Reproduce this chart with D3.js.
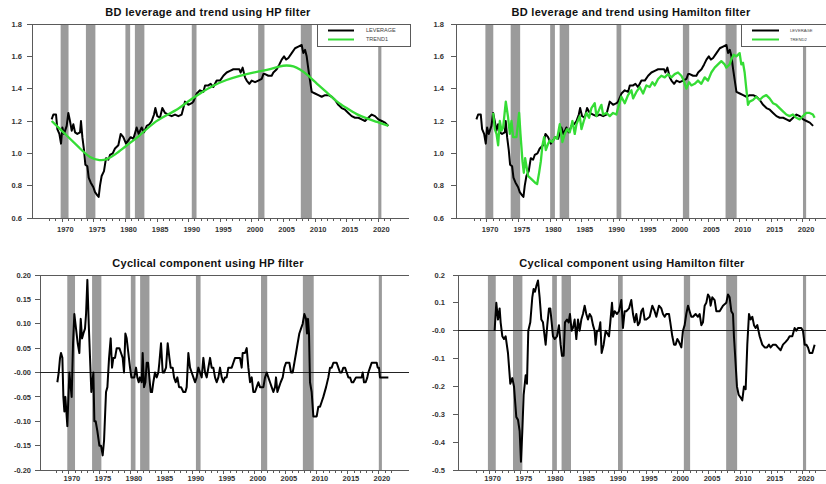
<!DOCTYPE html>
<html><head><meta charset="utf-8">
<script src="https://cdn.jsdelivr.net/npm/d3@7"></script>
<style>
body{margin:0;background:#fff}
svg{display:block}
text{font-family:"Liberation Sans",Arial,Helvetica,sans-serif}
</style>
</head><body>
<svg id="chart" width="826" height="484"></svg>
<script>
// ---------------- DATA ----------------
const titles = [
  "BD leverage and trend using HP filter",
  "BD leverage and trend using Hamilton filter",
  "Cyclical component using HP filter",
  "Cyclical component using Hamilton filter"
];
const legendNames1 = ["LEVERAGE", "TREND1"];
const legendNames2 = ["LEVERAGE", "TREND2"];

const yearLabels = [1970, 1975, 1980, 1985, 1990, 1995, 2000, 2005, 2010, 2015, 2020];

const levelTicks = [1.8, 1.6, 1.4, 1.2, 1.0, 0.8, 0.6];
const levelTickLabels = ["1.8", "1.6", "1.4", "1.2", "1.0", "0.8", "0.6"];
const hpCycleTicks = [0.20, 0.15, 0.10, 0.05, 0.00, -0.05, -0.10, -0.15, -0.20];
const hpCycleTickLabels = ["0.20", "0.15", "0.10", "0.05", "-0.00", "-0.05", "-0.10", "-0.15", "-0.20"];
const hamCycleTicks = [0.2, 0.1, 0.0, -0.1, -0.2, -0.3, -0.4, -0.5];
const hamCycleTickLabels = ["0.2", "0.1", "-0.0", "-0.1", "-0.2", "-0.3", "-0.4", "-0.5"];

// NBER recessions (quarterly, start/end as decimal years)
const recessions = [
  [1969.75, 1971.0], [1973.75, 1975.25], [1980.0, 1980.75], [1981.5, 1983.0],
  [1990.5, 1991.25], [2001.0, 2002.0], [2007.75, 2009.5], [2020.0, 2020.5]
];

const leverage = [
  [1968.33,1.21],[1968.60,1.24],[1969.02,1.24],[1969.23,1.15],[1969.55,1.12],[1969.81,1.06],[1970.02,1.16],[1970.28,1.12],
  [1970.71,1.17],[1970.97,1.25],[1971.23,1.20],[1971.50,1.14],[1971.76,1.18],[1972.03,1.13],[1972.39,1.12],[1972.82,1.13],
  [1972.97,1.20],[1973.19,1.10],[1973.45,1.02],[1973.66,0.93],[1973.98,0.92],[1974.19,0.85],[1974.50,0.82],[1974.93,0.79],
  [1975.19,0.76],[1975.56,0.74],[1975.77,0.73],[1975.98,0.80],[1976.24,0.86],[1976.61,0.89],[1976.93,0.97],[1977.30,0.96],
  [1977.56,0.99],[1977.99,1.00],[1978.35,1.03],[1978.88,1.05],[1979.25,1.12],[1979.67,1.10],[1980.09,1.06],[1980.46,1.08],
  [1980.83,1.10],[1981.26,1.09],[1981.78,1.16],[1982.10,1.12],[1982.57,1.16],[1982.94,1.13],[1983.37,1.17],[1983.79,1.18],
  [1984.16,1.20],[1984.53,1.24],[1984.74,1.28],[1985.05,1.23],[1985.47,1.22],[1985.84,1.28],[1986.27,1.25],[1986.79,1.24],
  [1987.32,1.23],[1987.85,1.24],[1988.38,1.23],[1988.90,1.24],[1989.43,1.32],[1989.96,1.30],[1990.49,1.31],[1990.75,1.32],
  [1991.28,1.37],[1991.80,1.39],[1992.33,1.38],[1992.60,1.42],[1993.12,1.42],[1993.49,1.43],[1993.91,1.41],[1994.44,1.45],
  [1994.97,1.45],[1995.50,1.48],[1996.02,1.50],[1996.55,1.51],[1997.08,1.52],[1997.61,1.52],[1998.03,1.52],[1998.24,1.50],
  [1998.55,1.53],[1998.92,1.47],[1999.19,1.45],[1999.61,1.43],[1999.98,1.45],[2000.51,1.44],[2001.03,1.45],[2001.56,1.46],
  [2001.83,1.49],[2002.09,1.49],[2002.62,1.48],[2003.14,1.48],[2003.41,1.50],[2003.94,1.52],[2004.36,1.55],[2004.73,1.58],
  [2005.10,1.60],[2005.41,1.58],[2005.78,1.59],[2006.31,1.62],[2006.84,1.65],[2007.36,1.66],[2007.89,1.67],[2008.15,1.62],
  [2008.42,1.64],[2008.68,1.60],[2008.95,1.52],[2009.21,1.45],[2009.47,1.38],[2010.00,1.37],[2010.53,1.36],[2011.06,1.35],
  [2011.58,1.36],[2012.11,1.36],[2012.64,1.35],[2013.17,1.33],[2013.69,1.30],[2014.22,1.28],[2014.75,1.27],[2015.27,1.25],
  [2015.80,1.23],[2016.33,1.22],[2016.86,1.22],[2017.38,1.21],[2017.91,1.20],[2018.44,1.22],[2018.97,1.24],[2019.49,1.23],
  [2020.02,1.21],[2020.55,1.20],[2021.08,1.19],[2021.60,1.17]
];

const trend1 = [
  [1968.33,1.20],[1970.71,1.11],[1972.82,1.03],[1974.40,0.97],[1975.98,0.955],[1977.00,0.96],[1978.35,0.99],[1980.20,1.05],
  [1982.30,1.11],[1984.40,1.19],[1986.50,1.235],[1988.60,1.28],[1990.20,1.33],[1991.80,1.37],[1993.90,1.42],[1996.00,1.455],
  [1998.10,1.48],[2000.20,1.50],[2002.40,1.515],[2004.50,1.54],[2005.50,1.545],[2006.60,1.54],[2007.60,1.52],[2008.70,1.49],
  [2010.30,1.43],[2011.80,1.38],[2013.40,1.32],[2015.00,1.28],[2016.60,1.24],[2018.20,1.215],[2019.80,1.195],[2021.60,1.17]
];

const trend2 = [
  [1970.98,1.25],[1971.24,1.15],[1971.51,1.12],[1971.77,1.05],[1972.03,1.20],[1972.30,1.14],[1972.56,1.16],[1972.98,1.32],
  [1973.35,1.22],[1973.62,1.12],[1973.88,1.20],[1974.14,1.10],[1974.67,1.10],[1975.09,1.25],[1975.30,1.12],[1975.62,0.95],
  [1975.83,0.88],[1976.04,0.97],[1976.25,0.92],[1976.51,0.86],[1977.04,0.84],[1977.57,0.82],[1977.94,0.81],[1978.25,0.88],
  [1978.52,0.95],[1978.78,1.05],[1979.04,1.10],[1979.31,1.02],[1979.68,1.06],[1979.94,1.08],[1980.36,1.07],[1980.73,1.10],
  [1981.10,1.09],[1981.52,1.18],[1981.94,1.07],[1982.31,1.12],[1982.68,1.15],[1983.10,1.13],[1983.52,1.20],[1983.89,1.12],
  [1984.16,1.18],[1984.68,1.23],[1984.95,1.15],[1985.32,1.20],[1985.74,1.25],[1986.16,1.22],[1986.53,1.28],[1987.05,1.31],
  [1987.32,1.23],[1987.85,1.28],[1988.11,1.30],[1988.37,1.24],[1988.90,1.25],[1989.43,1.23],[1989.95,1.25],[1990.48,1.24],
  [1990.74,1.28],[1991.27,1.35],[1991.80,1.31],[1992.32,1.36],[1992.85,1.39],[1993.12,1.34],[1993.64,1.38],[1994.17,1.41],
  [1994.70,1.37],[1995.22,1.42],[1995.75,1.41],[1996.17,1.44],[1996.54,1.42],[1997.07,1.46],[1997.59,1.48],[1998.12,1.47],
  [1998.65,1.49],[1999.18,1.47],[1999.70,1.49],[2000.23,1.50],[2000.76,1.48],[2001.13,1.45],[2001.55,1.40],[2001.97,1.44],
  [2002.34,1.42],[2002.86,1.43],[2003.39,1.45],[2003.92,1.43],[2004.45,1.47],[2004.97,1.45],[2005.50,1.50],[2006.03,1.53],
  [2006.55,1.55],[2007.08,1.57],[2007.61,1.55],[2007.87,1.53],[2008.40,1.55],[2008.66,1.58],[2009.03,1.61],[2009.45,1.60],
  [2009.98,1.62],[2010.24,1.55],[2010.51,1.56],[2010.77,1.50],[2011.03,1.40],[2011.30,1.30],[2011.56,1.32],[2012.09,1.33],
  [2012.61,1.35],[2013.14,1.33],[2013.67,1.35],[2014.20,1.36],[2014.72,1.34],[2015.25,1.31],[2015.78,1.30],[2016.30,1.28],
  [2016.83,1.26],[2017.36,1.24],[2017.88,1.23],[2018.41,1.24],[2018.94,1.22],[2019.47,1.21],[2019.99,1.23],[2020.52,1.25],
  [2021.05,1.25],[2021.57,1.24],[2021.84,1.22]
];

const hpCycle = [
  [1968.15,-0.02],[1968.37,0.00],[1968.58,0.03],[1968.74,0.04],[1968.96,0.03],[1969.12,-0.05],[1969.28,-0.08],[1969.44,-0.05],
  [1969.60,-0.08],[1969.76,-0.11],[1969.93,-0.05],[1970.09,0.00],[1970.30,-0.03],[1970.46,-0.05],[1970.68,0.06],[1970.89,0.12],
  [1971.16,0.09],[1971.43,0.06],[1971.70,0.04],[1971.92,0.11],[1972.13,0.07],[1972.35,0.08],[1972.61,0.09],[1972.78,0.12],
  [1972.99,0.19],[1973.21,0.10],[1973.42,0.03],[1973.63,-0.04],[1973.80,-0.02],[1973.96,0.00],[1974.12,-0.10],[1974.33,-0.10],
  [1974.60,-0.12],[1974.93,-0.15],[1975.19,-0.15],[1975.46,-0.17],[1975.68,-0.14],[1976.00,-0.04],[1976.22,-0.03],[1976.49,0.03],
  [1976.75,0.07],[1976.97,0.01],[1977.18,0.03],[1977.45,0.03],[1977.72,0.05],[1978.15,0.05],[1978.42,0.04],[1978.69,0.03],
  [1978.90,0.00],[1979.12,0.08],[1979.33,0.07],[1979.60,0.04],[1979.87,0.01],[1980.09,-0.01],[1980.30,-0.01],[1980.57,-0.01],
  [1980.84,0.01],[1981.05,-0.01],[1981.27,-0.02],[1981.48,-0.01],[1981.75,-0.02],[1981.91,0.04],[1982.13,-0.03],[1982.35,-0.02],
  [1982.56,0.02],[1982.78,0.02],[1982.99,-0.01],[1983.20,-0.04],[1983.42,-0.04],[1983.63,-0.02],[1983.90,0.00],[1984.17,-0.01],
  [1984.44,0.00],[1984.60,0.02],[1984.87,0.06],[1985.14,0.00],[1985.36,0.00],[1985.68,0.01],[1985.95,0.06],[1986.22,0.03],
  [1986.43,0.01],[1986.75,0.01],[1986.97,-0.01],[1987.24,-0.02],[1987.51,-0.01],[1987.78,-0.03],[1988.10,-0.03],[1988.47,-0.04],
  [1988.80,-0.04],[1989.01,-0.03],[1989.28,0.04],[1989.55,0.01],[1989.82,0.00],[1990.09,-0.01],[1990.36,-0.02],[1990.62,-0.01],
  [1990.89,0.01],[1991.16,0.00],[1991.43,-0.01],[1991.70,0.03],[1991.97,0.00],[1992.24,-0.01],[1992.51,0.01],[1992.78,0.03],
  [1993.04,0.01],[1993.31,0.01],[1993.58,-0.01],[1993.85,-0.02],[1994.12,-0.01],[1994.39,0.01],[1994.66,-0.01],[1994.93,-0.02],
  [1995.19,-0.01],[1995.46,-0.01],[1995.73,0.01],[1996.00,0.01],[1996.27,0.01],[1996.54,0.02],[1996.81,0.03],[1997.08,0.03],
  [1997.35,0.03],[1997.61,0.03],[1997.88,0.01],[1998.04,0.04],[1998.42,0.04],[1998.69,0.05],[1998.96,0.01],[1999.23,-0.02],
  [1999.50,-0.01],[1999.76,-0.04],[2000.03,-0.04],[2000.30,-0.03],[2000.57,-0.02],[2000.84,-0.03],[2001.38,-0.03],[2001.65,-0.01],
  [2001.92,0.00],[2002.18,-0.01],[2002.45,-0.02],[2002.72,-0.03],[2002.99,-0.04],[2003.26,-0.03],[2003.42,-0.01],[2003.64,-0.04],
  [2003.90,-0.03],[2004.17,-0.02],[2004.50,-0.01],[2004.76,0.01],[2005.03,0.02],[2005.30,0.02],[2005.57,0.02],[2005.84,0.00],
  [2006.11,0.00],[2006.38,0.02],[2006.65,0.04],[2006.91,0.06],[2007.18,0.08],[2007.45,0.09],[2007.72,0.10],[2007.99,0.12],
  [2008.26,0.11],[2008.42,0.08],[2008.58,0.11],[2008.74,0.08],[2008.90,-0.02],[2009.17,-0.04],[2009.44,-0.09],[2009.71,-0.09],
  [2009.98,-0.09],[2010.25,-0.07],[2010.52,-0.07],[2010.79,-0.06],[2011.05,-0.05],[2011.49,-0.03],[2011.86,-0.01],[2012.13,0.01],
  [2012.40,0.01],[2012.67,0.02],[2012.94,0.02],[2013.20,0.02],[2013.47,0.01],[2013.74,0.00],[2014.01,0.00],[2014.28,0.01],
  [2014.55,0.01],[2014.82,0.00],[2015.09,-0.01],[2015.36,-0.01],[2015.62,-0.02],[2015.89,-0.02],[2016.32,-0.01],[2016.70,-0.01],
  [2016.97,-0.01],[2017.24,-0.01],[2017.40,0.00],[2017.61,-0.02],[2017.88,-0.02],[2018.15,-0.01],[2018.31,0.00],[2018.58,0.01],
  [2018.85,0.02],[2019.12,0.02],[2019.39,0.02],[2019.66,0.02],[2019.82,0.01],[2020.03,0.01],[2020.19,-0.01],[2020.46,-0.01],
  [2020.73,-0.01],[2021.00,-0.01],[2021.27,-0.01],[2021.54,-0.01]
];

const hamiltonCycle = [
  [1970.82,0.00],[1971.09,0.10],[1971.36,0.04],[1971.62,0.08],[1971.78,0.03],[1972.05,-0.02],[1972.31,-0.03],[1972.58,-0.02],
  [1972.95,-0.08],[1973.32,-0.19],[1973.64,-0.17],[1973.91,-0.20],[1974.28,-0.31],[1974.55,-0.32],[1974.81,-0.36],[1975.02,-0.47],
  [1975.24,-0.36],[1975.45,-0.23],[1975.77,-0.16],[1975.98,-0.19],[1976.19,0.00],[1976.51,0.03],[1976.83,0.12],[1977.04,0.15],
  [1977.26,0.14],[1977.47,0.16],[1977.74,0.18],[1978.00,0.12],[1978.27,0.04],[1978.53,0.03],[1978.80,-0.02],[1978.96,-0.05],
  [1979.22,0.02],[1979.49,0.08],[1979.70,0.08],[1979.92,0.03],[1980.13,-0.02],[1980.39,-0.03],[1980.77,-0.02],[1981.08,0.02],
  [1981.35,-0.05],[1981.56,-0.09],[1981.83,-0.09],[1982.04,0.03],[1982.36,0.04],[1982.63,0.03],[1982.84,0.06],[1983.10,0.00],
  [1983.32,0.01],[1983.58,0.04],[1983.85,-0.03],[1984.12,0.04],[1984.38,0.00],[1984.65,0.04],[1984.91,0.06],[1985.18,0.09],
  [1985.44,0.06],[1985.71,0.04],[1985.98,0.06],[1986.24,0.05],[1986.51,0.02],[1986.77,0.00],[1986.93,-0.05],[1987.15,0.00],
  [1987.46,0.00],[1987.68,0.03],[1987.89,-0.08],[1988.21,-0.05],[1988.53,0.00],[1988.79,-0.01],[1989.06,-0.02],[1989.27,0.03],
  [1989.54,0.10],[1989.70,0.05],[1989.96,0.07],[1990.34,0.06],[1990.65,0.07],[1991.03,0.11],[1991.29,0.01],[1991.56,0.07],
  [1991.82,0.07],[1992.25,0.08],[1992.62,0.11],[1992.89,0.06],[1993.15,0.03],[1993.42,0.06],[1993.68,0.02],[1993.95,0.03],
  [1994.22,0.07],[1994.48,0.08],[1994.75,0.04],[1995.01,0.04],[1995.55,0.05],[1995.97,0.09],[1996.34,0.07],[1996.61,0.05],
  [1997.03,0.09],[1997.41,0.08],[1997.67,0.06],[1997.94,0.05],[1998.20,0.06],[1998.63,0.06],[1998.84,0.03],[1999.16,-0.02],
  [1999.43,-0.05],[1999.69,-0.05],[1999.96,-0.03],[2000.22,-0.04],[2000.60,-0.06],[2000.86,0.00],[2001.13,0.02],[2001.39,0.06],
  [2001.66,0.09],[2001.92,0.07],[2002.19,0.05],[2002.46,0.05],[2002.88,0.06],[2003.25,0.05],[2003.52,0.06],[2003.79,0.02],
  [2004.05,0.03],[2004.32,0.09],[2004.58,0.10],[2004.85,0.13],[2005.11,0.12],[2005.27,0.09],[2005.54,0.12],[2005.91,0.11],
  [2006.18,0.07],[2006.71,0.07],[2007.24,0.09],[2007.77,0.10],[2008.04,0.13],[2008.30,0.12],[2008.57,0.07],[2008.84,0.06],
  [2008.99,-0.02],[2009.21,-0.10],[2009.47,-0.20],[2009.74,-0.23],[2010.06,-0.24],[2010.32,-0.25],[2010.59,-0.20],[2010.86,-0.21],
  [2011.12,-0.05],[2011.39,0.06],[2011.65,0.04],[2011.92,0.05],[2012.19,0.02],[2012.45,0.01],[2012.72,0.02],[2013.09,-0.02],
  [2013.51,-0.05],[2013.89,-0.06],[2014.26,-0.06],[2014.58,-0.05],[2014.84,-0.06],[2015.22,-0.05],[2015.64,-0.05],[2016.01,-0.06],
  [2016.44,-0.07],[2016.81,-0.05],[2017.24,-0.04],[2017.61,-0.03],[2017.87,-0.02],[2018.30,-0.02],[2018.67,0.01],[2018.94,0.00],
  [2019.20,0.01],[2019.47,0.01],[2019.73,0.01],[2020.00,0.00],[2020.27,-0.05],[2020.53,-0.05],[2020.80,-0.06],[2021.06,-0.08],
  [2021.49,-0.08],[2021.86,-0.05]
];

// ---------------- STYLE / LAYOUT ----------------
const GREEN = "#35dc35";
const BAR = "#9b9b9b";
const AXIS = "#5a5a5a";
const svg = d3.select("#chart");

const panels = [
  { title: titles[0], titleX: 208, titleY: 16, left: 32, right: 409, top: 24, bottom: 218,
    xDom: [1965.22, 2024.87], yDom: [0.6, 1.8], ticks: levelTicks, tickLabels: levelTickLabels,
    labelEnd: 22, xLabelY: 232, zero: false,
    series: [{ data: leverage, color: "#000", w: 2 }, { data: trend1, color: GREEN, w: 2.3, smooth: true }],
    legend: { x0: 317, x1: 410, l0: 328, l1: 354, tx: 366, fs: 5.5, names: legendNames1 } },
  { title: titles[1], titleX: 631, titleY: 16, left: 456, right: 833, top: 24, bottom: 218,
    xDom: [1965.1, 2024.75], yDom: [0.6, 1.8], ticks: levelTicks, tickLabels: levelTickLabels,
    labelEnd: 444, xLabelY: 231.5, zero: false,
    series: [{ data: leverage, color: "#000", w: 2 }, { data: trend2, color: GREEN, w: 2.3 }],
    legend: { x0: 741, x1: 832, l0: 752, l1: 779, tx: 790, fs: 4.2, names: legendNames2 } },
  { title: titles[2], titleX: 208, titleY: 267, left: 40, right: 409, top: 275, bottom: 470,
    xDom: [1965.35, 2024.87], yDom: [-0.2, 0.2], ticks: hpCycleTicks, tickLabels: hpCycleTickLabels,
    labelEnd: 31, xLabelY: 481, zero: true,
    series: [{ data: hpCycle, color: "#000", w: 2 }] },
  { title: titles[3], titleX: 632, titleY: 267, left: 458, right: 831, top: 275, bottom: 470,
    xDom: [1964.98, 2024.47], yDom: [-0.5, 0.2], ticks: hamCycleTicks, tickLabels: hamCycleTickLabels,
    labelEnd: 445, xLabelY: 481, zero: true,
    series: [{ data: hamiltonCycle, color: "#000", w: 2 }] }
];

const defs = svg.append("defs");

panels.forEach((p, i) => {
  const x = d3.scaleLinear().domain(p.xDom).range([p.left, p.right]);
  const y = d3.scaleLinear().domain(p.yDom).range([p.bottom, p.top]);
  const g = svg.append("g");
  const clipId = "clip" + i;
  defs.append("clipPath").attr("id", clipId).append("rect")
    .attr("x", p.left).attr("y", p.top).attr("width", p.right - p.left).attr("height", p.bottom - p.top);

  // title
  g.append("text").attr("x", p.titleX).attr("y", p.titleY).attr("text-anchor", "middle")
    .attr("font-size", 11).attr("font-weight", "bold").attr("letter-spacing", 0.3).attr("fill", "#111")
    .text(p.title);

  // recession bars
  g.append("g").attr("clip-path", `url(#${clipId})`).selectAll("rect").data(recessions).join("rect")
    .attr("x", d => x(d[0])).attr("width", d => x(d[1]) - x(d[0]))
    .attr("y", p.top).attr("height", p.bottom - p.top).attr("fill", BAR);

  // frame: left axis, top and bottom lines
  const fr = g.append("g").attr("stroke", AXIS).attr("stroke-width", 1).attr("shape-rendering", "crispEdges");
  fr.append("line").attr("x1", p.left).attr("x2", p.left).attr("y1", p.top).attr("y2", p.bottom);
  fr.append("line").attr("x1", p.left).attr("x2", Math.min(p.right, 826)).attr("y1", p.top).attr("y2", p.top);
  fr.append("line").attr("x1", p.left).attr("x2", Math.min(p.right, 826)).attr("y1", p.bottom).attr("y2", p.bottom);

  // y ticks + labels
  fr.selectAll("line.yt").data(p.ticks).join("line").attr("class", "yt")
    .attr("x1", p.left - 5).attr("x2", p.left).attr("y1", d => y(d)).attr("y2", d => y(d));
  g.selectAll("text.yl").data(p.ticks).join("text").attr("class", "yl")
    .attr("x", p.labelEnd).attr("y", d => y(d)).attr("dy", "0.35em").attr("text-anchor", "end")
    .attr("font-size", 7.5).attr("font-weight", "bold").attr("fill", "#333")
    .text((d, k) => p.tickLabels[k]);

  // x ticks (yearly) + labels
  const years = d3.range(1968, 2023);
  fr.selectAll("line.xt").data(years).join("line").attr("class", "xt")
    .attr("x1", d => x(d)).attr("x2", d => x(d)).attr("y1", p.bottom).attr("y2", d => p.bottom + (d % 5 === 0 ? 4 : 3));
  g.selectAll("text.xl").data(yearLabels).join("text").attr("class", "xl")
    .attr("x", d => x(d + 0.5)).attr("y", p.xLabelY).attr("text-anchor", "middle")
    .attr("font-size", 7.5).attr("font-weight", "bold").attr("fill", "#333")
    .text(d => d);

  // zero line
  if (p.zero) {
    g.append("line").attr("x1", p.left).attr("x2", Math.min(p.right, 826)).attr("y1", y(0)).attr("y2", y(0))
      .attr("stroke", "#222").attr("stroke-width", 1).attr("shape-rendering", "crispEdges");
  }

  // series
  const sg = g.append("g").attr("clip-path", `url(#${clipId})`);
  p.series.forEach(s => {
    const line = d3.line().x(d => x(d[0])).y(d => y(d[1]))
      .curve(s.smooth ? d3.curveBasis : d3.curveLinear);
    sg.append("path").datum(s.data).attr("d", line).attr("fill", "none")
      .attr("stroke", s.color).attr("stroke-width", s.w).attr("stroke-linejoin", "round");
  });

  // legend
  if (p.legend) {
    const L = p.legend;
    const lg = g.append("g");
    lg.append("rect").attr("x", L.x0).attr("y", p.top).attr("width", L.x1 - L.x0).attr("height", 22)
      .attr("fill", "#fff").attr("stroke", AXIS).attr("stroke-width", 1).attr("shape-rendering", "crispEdges");
    [["#000", 30.5], [GREEN, 39.5]].forEach((c, k) => {
      lg.append("line").attr("x1", L.l0).attr("x2", L.l1).attr("y1", c[1]).attr("y2", c[1])
        .attr("stroke", c[0]).attr("stroke-width", 2);
      lg.append("text").attr("x", L.tx).attr("y", c[1]).attr("dy", "0.35em")
        .attr("font-size", L.fs).attr("fill", "#444").text(L.names[k]);
    });
  }
});
</script>
</body></html>
